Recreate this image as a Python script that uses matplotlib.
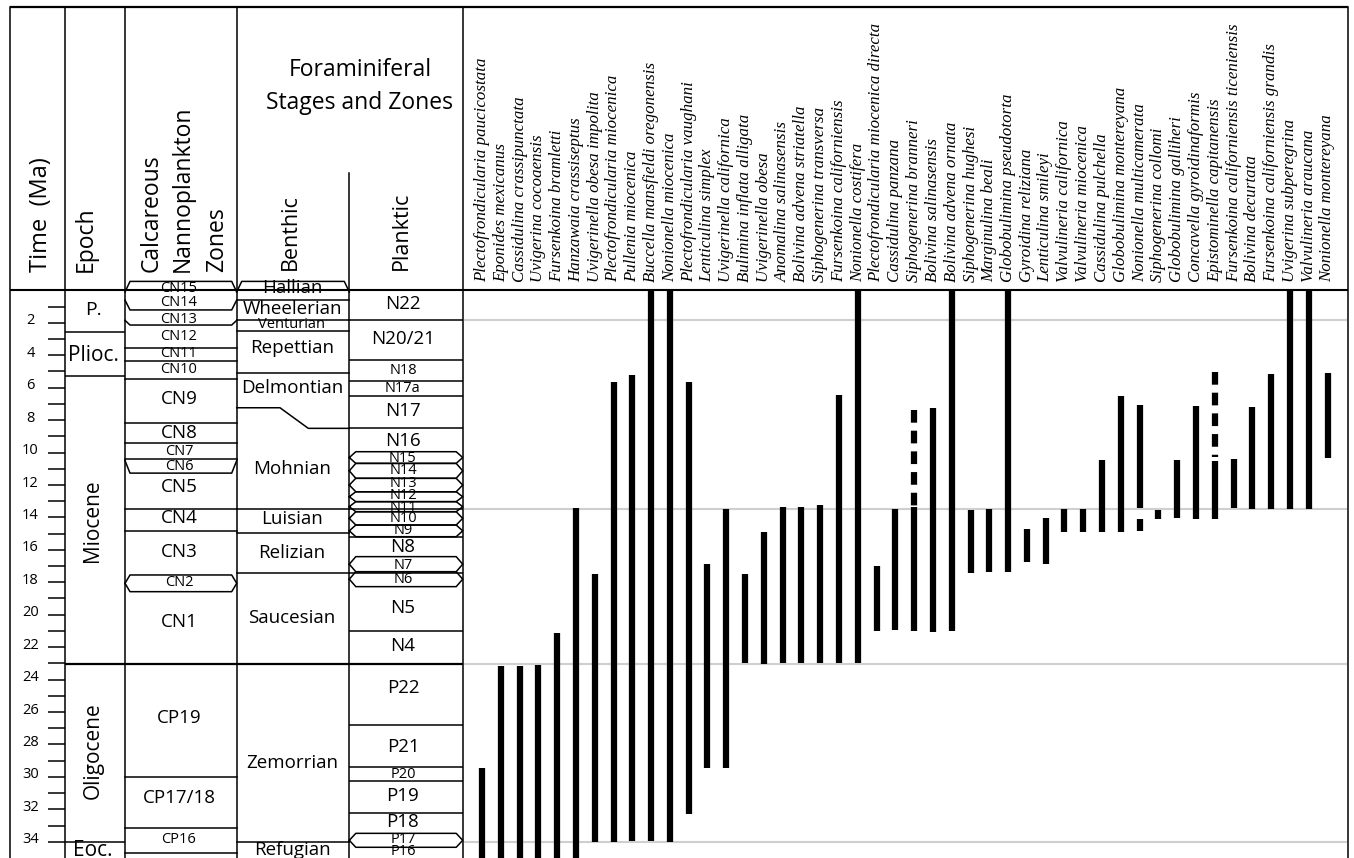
import numpy as np
import matplotlib.pyplot as plt

plt.rcParams['font.family'] = ['Open Sans', 'DejaVu Sans']

# ---------------- data (ages in Ma) ----------------
species = [
    "Plectofrondicularia paucicostata", "Eponides mexicanus", "Cassidulina crassipunctata",
    "Uvigerina cocoaensis", "Fursenkoina bramletti", "Hanzawaia crassiseptus",
    "Uvigerinella obesa impolita", "Plectofrondicularia miocenica", "Pullenia miocenica",
    "Buccella mansfieldi oregonensis", "Nonionella miocenica", "Plectofrondicularia vaughani",
    "Lenticulina simplex", "Uvigerinella californica", "Bulimina inflata alligata",
    "Uvigerinella obesa", "Anomalina salinasensis", "Bolivina advena striatella",
    "Siphogenerina transversa", "Fursenkoina californiensis", "Nonionella costifera",
    "Plectofrondicularia miocenica directa", "Cassidulina panzana", "Siphogenerina branneri",
    "Bolivina salinasensis", "Bolivina advena ornata", "Siphogenerina hughesi",
    "Marginulina beali", "Globobulimina pseudotorta", "Gyroidina reliziana",
    "Lenticulina smileyi", "Valvulineria californica", "Valvulineria miocenica",
    "Cassidulina pulchella", "Globobulimina montereyana", "Nonionella multicamerata",
    "Siphogenerina collomi", "Globobulimina galliheri", "Concavella gyroidinaformis",
    "Epistominella capitanensis", "Fursenkoina californiensis ticeniensis", "Bolivina decurtata",
    "Fursenkoina californiensis grandis", "Uvigerina subperegrina", "Valvulineria araucana",
    "Nonionella montereyana",
]
# youngest (top) and oldest (base) occurrence
range_top = [29.43, 23.14, 23.14, 23.08, 21.1, 13.4, 17.49, 5.67, 5.22, 0.0,
             0.0, 5.67, 16.9, 13.5, 17.5, 14.9, 13.38, 13.38, 13.24, 6.46,
             0.0, 16.98, 13.5, 13.34, 7.28, 0.0, 13.55, 13.5, 0.0, 14.74,
             14.06, 13.46, 13.46, 10.48, 6.52, 7.09, 13.55, 10.46, 7.13, 10.5,
             10.4, 7.17, 5.16, 0.0, 0.0, 5.12]
range_base = [36.0, 36.0, 36.0, 36.0, 36.0, 36.0, 34.03, 34.03, 33.95, 33.95,
              34.03, 32.29, 29.43, 29.43, 22.96, 23.04, 23.0, 23.0, 23.0, 23.0,
              23.0, 21.0, 20.97, 21.0, 21.07, 21.0, 17.45, 17.39, 17.39, 16.73,
              16.86, 14.92, 14.92, 14.88, 14.88, 13.44, 14.1, 14.06, 14.1, 14.1,
              13.4, 13.46, 13.46, 13.46, 13.46, 10.36]
dashed_ranges = [("Siphogenerina branneri", 7.38, 13.34),
                 ("Epistominella capitanensis", 5.04, 10.3)]
extra_ranges = [("Nonionella multicamerata", 14.08, 14.82)]
ref_ages = [1.85, 13.46, 23.06, 34.0]

epochs = ["P.", "Plioc.", "Miocene", "Oligocene", "Eoc."]
epoch_label_age = [1.2, 4.0, 14.2, 28.4, 34.55]
epoch_bounds = [2.55, 5.3, 23.06, 34.0]

nanno = ["CN15", "CN14", "CN13", "CN12", "CN11", "CN10", "CN9", "CN8", "CN7", "CN6",
         "CN5", "CN4", "CN3", "CN2", "CN1", "CP19", "CP17/18", "CP16"]
nanno_label_age = [-0.12, 0.76, 1.79, 2.82, 3.89, 4.87, 6.72, 8.82, 9.95, 10.87,
                   12.15, 14.02, 16.12, 18.0, 20.43, 26.39, 31.32, 33.89]
# boundaries as (age at column edge, age in middle)
nanno_bounds = [(0.1, -0.55), (0.6, 1.21), (1.85, 2.14), (3.54, 3.54), (4.36, 4.36),
                (5.47, 5.47), (8.15, 8.15), (9.43, 9.43), (10.42, 10.42), (10.5, 11.27),
                (13.46, 13.46), (14.82, 14.82), (29.99, 29.99), (33.17, 33.17),
                (34.67, 34.67)]
nanno_hex = [(17.55, 18.58)]

benthic = ["Hallian", "Wheelerian", "Venturian", "Repettian", "Delmontian", "Mohnian",
           "Luisian", "Relizian", "Saucesian", "Zemorrian", "Refugian"]
benthic_label_age = [-0.12, 1.17, 2.1, 3.58, 6.04, 11.02, 14.12, 16.22, 20.22, 29.16, 34.5]
benthic_bounds = [(0.1, -0.55), (0.6, 0.6), (1.82, 1.82), (2.53, 2.53), (5.12, 5.12),
                  (13.46, 13.46), (14.97, 14.97), (17.45, 17.45), (34.0, 34.0)]
delmontian_base = (7.24, 8.51)   # stepped boundary: left part, right part

planktic = ["N22", "N20/21", "N18", "N17a", "N17", "N16", "N15", "N14", "N13", "N12",
            "N11", "N10", "N9", "N8", "N7", "N6", "N5", "N4", "P22", "P21", "P20",
            "P19", "P18", "P17", "P16"]
planktic_label_age = [0.86, 3.02, 4.96, 6.04, 7.44, 9.29, 10.36, 11.12, 11.9, 12.68,
                      13.38, 14.06, 14.82, 15.81, 16.94, 17.82, 19.6, 21.93, 24.54,
                      28.18, 29.88, 31.18, 32.76, 33.85, 34.6]
planktic_bounds = [1.8, 4.3, 5.59, 6.52, 8.51, 13.46, 15.19, 17.45, 21.0, 26.8,
                   29.37, 30.25, 32.2]
planktic_hex = [(9.95, 10.67), (10.67, 11.59), (11.59, 12.42), (12.42, 13.03),
                (13.03, 13.65), (13.65, 14.47), (14.47, 15.19), (16.42, 17.35),
                (17.35, 18.27), (33.48, 34.34)]

# ---------------- layout ----------------
X_L, X_TIME, X_EPOCH, X_NANNO, X_BENTH, X_PLANK, X_R = 10, 65, 125, 236.7, 349.3, 462.7, 1348
TOP = -17.45
small_labels = {"CN15", "CN14", "CN13", "CN12", "CN11", "CN10", "CN7", "CN6", "CN2", "CP16",
                "Venturian", "N18", "N17a", "N15", "N14", "N13", "N12", "N11", "N10", "N9",
                "N7", "N6", "P20", "P17", "P16"}

fig = plt.figure(figsize=(13.54, 8.58), dpi=100)
ax = fig.add_axes([0, 0, 1, 1])
ax.set_xlim(0, 1354)
ax.set_ylim(35.0, -17.9)
ax.axis('off')

LW = 1.1
def hline(x0, x1, age, lw=LW, color='k'):
    ax.plot([x0, x1], [age, age], color=color, lw=lw, solid_capstyle='butt')

def bevel(x0, x1, edge, mid, d=5):
    ax.plot([x0, x0 + d, x1 - d, x1], [edge, mid, mid, edge], color='k', lw=LW)

def hexzone(x0, x1, top, base, d=6.5):
    m = (top + base) / 2
    ax.plot([x0, x0 + d, x1 - d, x1, x1 - d, x0 + d, x0],
            [m, top, top, m, base, base, m], color='k', lw=LW)

# frame
hline(X_L, X_R, TOP, lw=1.6)
hline(X_L, X_R, 0, lw=1.5)
for x in [X_L, X_TIME, X_EPOCH, X_NANNO, X_PLANK, X_R]:
    ax.plot([x, x], [TOP, 35.5], color='k', lw=LW)
ax.plot([X_BENTH, X_BENTH], [-7.23, 35.5], color='k', lw=LW)
hline(X_TIME, X_PLANK, 23.06, lw=1.6)

# time axis
for a in range(1, 35):
    hline(48, X_TIME, a)
    if a % 2 == 0:
        ax.text(30.5, a - 0.12, str(a), ha='center', va='center', fontsize=10.5)

# header texts
ax.text(41, -1.1, "Time  (Ma)", rotation=90, ha='center', va='bottom', fontsize=17)
ax.text(86, -1.1, "Epoch", rotation=90, ha='center', va='bottom', fontsize=16.5)
for xx, t in [(152, "Calcareous"), (183, "Nannoplankton"), (217, "Zones")]:
    ax.text(xx, -1.1, t, rotation=90, ha='center', va='bottom', fontsize=16.5)
ax.text(360, -13.58, "Foraminiferal", ha='center', va='center', fontsize=16.5)
ax.text(360, -11.55, "Stages and Zones", ha='center', va='center', fontsize=16.5)
ax.text(290, -1.25, "Benthic", rotation=90, ha='center', va='bottom', fontsize=15.5)
ax.text(401, -1.25, "Planktic", rotation=90, ha='center', va='bottom', fontsize=15.5)

# epochs
for b in epoch_bounds:
    hline(X_TIME, X_EPOCH, b)
for name, a in zip(epochs, epoch_label_age):
    rot = 90 if len(name) > 6 else 0
    ax.text(93, a, name, rotation=rot, ha='center', va='center',
            fontsize=15 if name != "P." else 14)

# nannoplankton
for e, m in nanno_bounds:
    bevel(X_EPOCH, X_NANNO, e, m)
for t, b in nanno_hex:
    hexzone(X_EPOCH, X_NANNO, t, b, d=5)
for name, a in zip(nanno, nanno_label_age):
    ax.text(179, a, name, ha='center', va='center',
            fontsize=10.5 if name in small_labels else 13.5)

# benthic stages
for e, m in benthic_bounds:
    bevel(X_NANNO, X_BENTH, e, m)
d_top, d_base = delmontian_base
ax.plot([X_NANNO, 280, 308.3, X_BENTH], [d_top, d_top, d_base, d_base], color='k', lw=LW)
for name, a in zip(benthic, benthic_label_age):
    ax.text(292, a, name, ha='center', va='center',
            fontsize=10.5 if name in small_labels else 13.5)

# planktic zones
for b in planktic_bounds:
    hline(X_BENTH, X_PLANK, b)
for t, b in planktic_hex:
    hexzone(X_BENTH, X_PLANK, t, b)
for name, a in zip(planktic, planktic_label_age):
    ax.text(403, a, name, ha='center', va='center',
            fontsize=10.5 if name in small_labels else 13.5)

# range chart
for a in ref_ages:
    hline(X_PLANK + 1, X_R - 1, a, lw=1.5, color='#cfcfcf')
xs = 482 + 18.79 * np.arange(len(species))
ax.vlines(xs, range_top, range_base, colors='k', lw=4.5)
pos = {n: x for n, x in zip(species, xs)}
for n, t, b in dashed_ranges:
    ax.plot([pos[n], pos[n]], [t, b], color='k', lw=4.5, dashes=(2.03, 1.28),
            dash_capstyle='butt')
for n, t, b in extra_ranges:
    ax.vlines(pos[n], t, b, colors='k', lw=4.5)
for x, n in zip(xs, species):
    ax.text(x, -0.5, n, rotation=90, ha='center', va='bottom', fontsize=12.2,
            family='Liberation Serif', style='italic')

fig.savefig("out.png", dpi=100)
